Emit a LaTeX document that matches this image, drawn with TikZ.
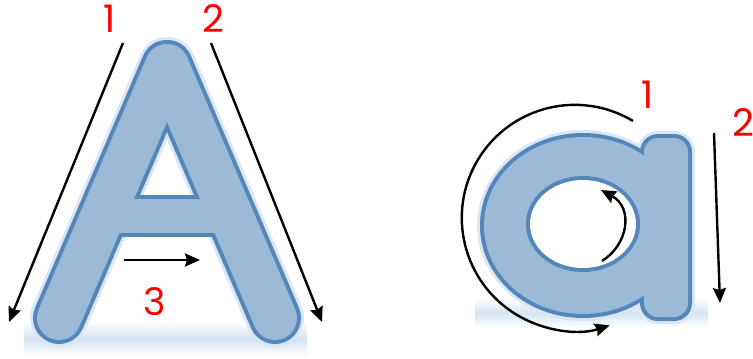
\documentclass[tikz,border=0pt]{standalone}
\usepackage{fontspec}
\setmainfont{Poppins}
\usetikzlibrary{arrows.meta}
\definecolor{lfill}{RGB}{156,186,215}
\definecolor{lline}{RGB}{84,134,186}
\definecolor{lglow}{RGB}{218,230,243}
\definecolor{band}{RGB}{214,227,240}
\begin{document}
\begin{tikzpicture}[x=1pt,y=-1pt,
  arr/.style={line width=2.4pt, -{Stealth[length=15pt,width=13pt,inset=2pt]}},
  num/.style={text=red, font=\fontsize{38}{38}\selectfont, inner sep=0pt},
  stroke/.style={line cap=round, line join=round}]
\useasboundingbox (0,0) rectangle (753,359);
% ---- background bands
\shade[top color=white, bottom color=white, middle color=band] (24,322) rectangle (307,356);
\shade[top color=white, bottom color=white, middle color=band] (475,298) rectangle (708,328);
% ---- letter A
\draw[lglow, line width=58pt, stroke] (59,318) -- (167,66) -- (275,318);
\draw[lline, line width=52pt, stroke] (59,318) -- (167,66) -- (275,318);
\draw[lline, line width=42pt] (100,216) -- (234,216);
\draw[lfill, line width=44pt, stroke] (59,318) -- (167,66) -- (275,318);
\draw[lfill, line width=34pt] (100,216) -- (234,216);
% ---- letter a
\fill[lglow] (583,225.5) ellipse [x radius=106, y radius=95.5];
\fill[lglow, rounded corners=21pt] (637,131) rectangle (695,324);
\fill[lline] (583,225.5) ellipse [x radius=103, y radius=92.5];
\fill[lline, rounded corners=18pt] (640,134) rectangle (692,321);
\fill[lfill] (583,225.5) ellipse [x radius=99, y radius=88.5];
\fill[lfill, rounded corners=14pt] (644,138) rectangle (688,317);
\fill[lline] (583,224) ellipse [x radius=57, y radius=48];
\fill[white] (583,224) ellipse [x radius=53, y radius=44];
% ---- arrows
\coordinate (a1s) at (123,43); \coordinate (a1e) at (9,322);
\coordinate (a2s) at (211,43); \coordinate (a2e) at (322,322);
\coordinate (a3s) at (124,260); \coordinate (a3e) at (200,260);
\coordinate (b2s) at (714,133); \coordinate (b2e) at (720,303);
\coordinate (b1s) at (633,121);
\coordinate (b3s) at (602,261); \coordinate (b3e) at (601,190);
\draw[arr] (a1s) -- (a1e);
\draw[arr] (a2s) -- (a2e);
\draw[arr] (a3s) -- (a3e);
\draw[arr] (b2s) -- (b2e);
\draw[arr] (b1s) arc[start angle=301, end angle=72, radius=113];
\draw[arr] (b3s) .. controls (628,245) and (634,208) .. (b3e);
% ---- numbers
\node[num] (n1) at (110,19) {1};
\node[num] (n2) at (213,19) {2};
\node[num] (n3) at (155,302) {3};
\node[num] (m1) at (648,95) {1};
\node[num] (m2) at (743,123) {2};
\end{tikzpicture}
\end{document}
